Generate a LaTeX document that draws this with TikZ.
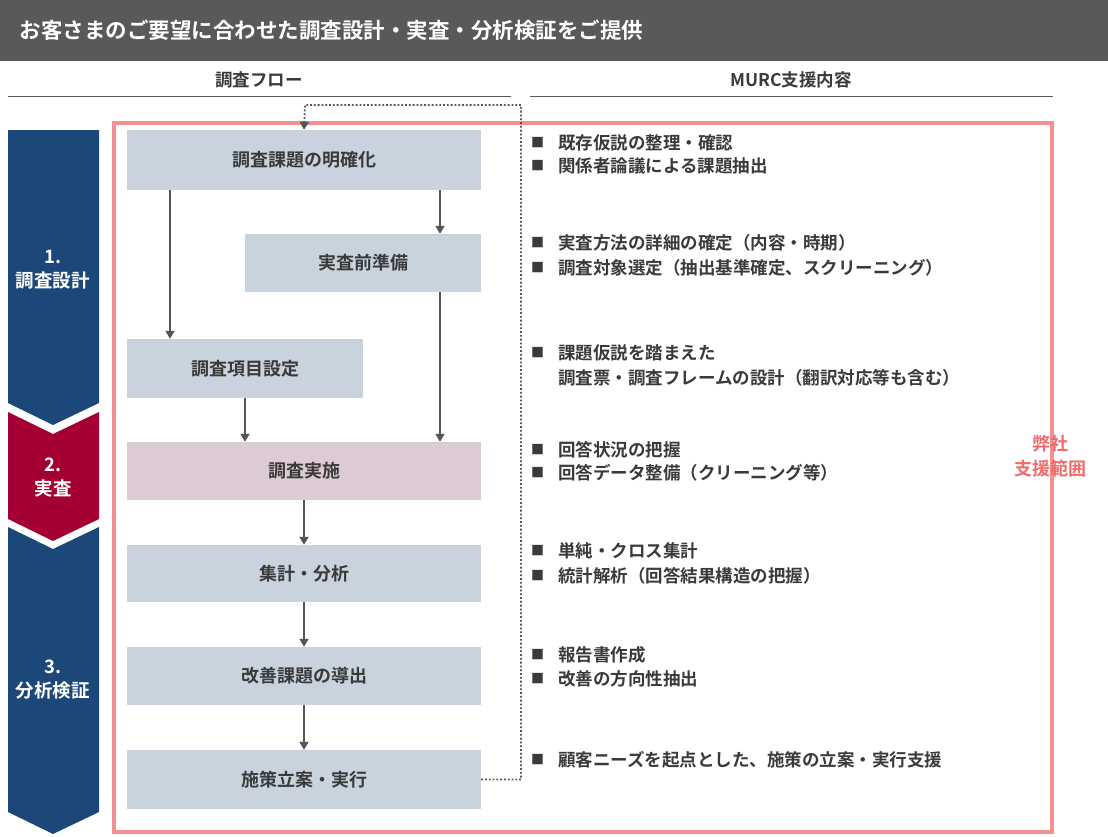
\documentclass[tikz,border=0pt]{standalone}
\usepackage{fontspec}
\setmainfont{Noto Sans CJK JP}[BoldFont={Noto Sans CJK JP Bold}]
\usetikzlibrary{arrows.meta}
\definecolor{hdr}{HTML}{595959}
\definecolor{navy}{HTML}{1B4878}
\definecolor{wine}{HTML}{A50034}
\definecolor{boxc}{HTML}{C8D3DE}
\definecolor{pinkbox}{HTML}{DCCBD5}
\definecolor{frame}{HTML}{F59090}
\definecolor{scopec}{HTML}{F06A6A}
\definecolor{txt}{HTML}{3A3A3A}
\definecolor{arr}{HTML}{555555}
\tikzset{
  flow/.style={fill=boxc,draw=none,inner sep=0pt,font=\bfseries\fontsize{18}{20}\selectfont,text=txt},
  conn/.style={draw=arr,line width=1.8pt,-{Triangle[length=8pt,width=9pt]}},
  item/.style={anchor=west,font=\bfseries\fontsize{17.5}{20}\selectfont,text=txt,inner sep=0pt},
  stage/.style={text=white,font=\bfseries\fontsize{18.5}{24}\selectfont,align=center},
}
\begin{document}
\begin{tikzpicture}[x=1pt,y=-1pt]
\useasboundingbox (0,0) rectangle (1108,836);
\fill[hdr] (0,0) rectangle (1108,61);
\node[anchor=west,text=white,font=\bfseries\fontsize{21.5}{24}\selectfont] (title) at (16,30) {お客さまのご要望に合わせた調査設計・実査・分析検証をご提供};
\node[font=\bfseries\fontsize{17.5}{20}\selectfont,text=txt] (h1) at (259,80) {調査フロー};
\node[font=\bfseries\fontsize{17.5}{20}\selectfont,text=txt] (h2) at (791,80) {MURC支援内容};
\draw[hdr,line width=1pt] (8,96) -- (511,96);
\draw[hdr,line width=1pt] (530,96) -- (1053,96);
% chevrons
\fill[navy] (8,130) -- (99,130) -- (99,403) -- (53,425) -- (8,403) -- cycle;
\fill[wine] (8,412) -- (53,434) -- (99,412) -- (99,519) -- (53,541) -- (8,519) -- cycle;
\fill[navy] (8,527) -- (53,549) -- (99,527) -- (99,812) -- (53,834) -- (8,812) -- cycle;
\node[stage] (s1) at (53,270) {1.\\調査設計};
\node[stage] (s2) at (53,478) {2.\\実査};
\node[stage] (s3) at (53,680) {3.\\分析検証};
% frame
\draw[frame,line width=3.5pt] (114,123) rectangle (1052,832);
\node[text=scopec,font=\bfseries\fontsize{18}{25}\selectfont,align=center] (scope) at (1050,456) {弊社\\支援範囲};
% flow boxes
\node[flow,minimum width=354pt,minimum height=60pt] (b1) at (304,160) {調査課題の明確化};
\node[flow,minimum width=236pt,minimum height=58pt] (b2) at (363,263) {実査前準備};
\node[flow,minimum width=236pt,minimum height=59pt] (b3) at (245,368.5) {調査項目設定};
\node[flow,fill=pinkbox,minimum width=354pt,minimum height=58pt] (b4) at (304,471) {調査実施};
\node[flow,minimum width=354pt,minimum height=57pt] (b5) at (304,573.5) {集計・分析};
\node[flow,minimum width=354pt,minimum height=58pt] (b6) at (304,676) {改善課題の導出};
\node[flow,minimum width=354pt,minimum height=59pt] (b7) at (304,779.5) {施策立案・実行};
\draw[conn] (b1.south -| 170,0) -- (b3.north -| 170,0);
\draw[conn] (b1.south -| 440,0) -- (b2.north -| 440,0);
\draw[conn] (b2.south -| 440,0) -- (b4.north -| 440,0);
\draw[conn] (b3.south -| 245,0) -- (b4.north -| 245,0);
\draw[conn] (b4) -- (b5);
\draw[conn] (b5) -- (b6);
\draw[conn] (b6) -- (b7);
\draw[arr,line width=1.8pt,dotted,-{Triangle[length=8pt,width=9pt]}] (b7.east) -- (521,779.5) -- (521,105) -- (305,105) -- (b1.north);
% right column
\foreach \y/\t in {143/既存仮説の整理・確認,166/関係者論議による課題抽出,
  243/実査方法の詳細の確定（内容・時期）,268/調査対象選定（抽出基準確定、スクリーニング）,
  353/課題仮説を踏まえた,
  450/回答状況の把握,473/回答データ整備（クリーニング等）,
  551/単純・クロス集計,576/統計解析（回答結果構造の把握）,
  655/報告書作成,679/改善の方向性抽出,
  760/顧客ニーズを起点とした、施策の立案・実行支援}{
  \node[item,font=\fontsize{13}{15}\selectfont] at (531,\y) {■};
  \node[item] at (558,\y) {\t};
}
\node[item] (r) at (558,378) {調査票・調査フレームの設計（翻訳対応等も含む）};
\end{tikzpicture}
\end{document}
